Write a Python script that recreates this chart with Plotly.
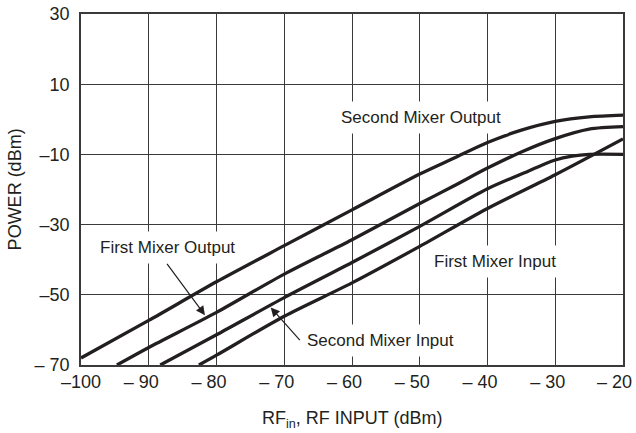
import plotly.graph_objects as go

# ---- data ----
rf_in_som = [-100, -90, -80, -70, -60, -50, -45, -40, -35, -30, -25, -20]
pw_som = [-68, -57.3, -46.3, -36, -25.8, -15.6, -11.1, -6.6, -3.1, -0.6, 0.7, 1.2]

rf_in_fmo = [-94.7, -90, -80, -70, -60, -50, -45, -40, -35, -30, -25, -20]
pw_fmo = [-70, -65, -55, -44.1, -34.3, -24, -19, -13.9, -9.3, -5.5, -2.8, -2.1]

rf_in_smi = [-88.3, -80, -70, -60, -50, -40, -35, -30, -27.5, -25, -20]
pw_smi = [-70, -61.4, -50.8, -40.8, -30.5, -19.8, -15.6, -11.6, -10.5, -10, -10]

rf_in_fmi = [-82.6, -80, -70, -60, -50, -40, -30, -20]
pw_fmi = [-70, -67.2, -56.1, -46.6, -36.2, -25.4, -15.8, -5.6]

x_ticks = [-100, -90, -80, -70, -60, -50, -40, -30, -20]
x_ticktext = ["–100", "– 90", "– 80", "– 70", "– 60", "– 50", "– 40", "– 30", "– 20"]
y_ticks = [30, 10, -10, -30, -50, -70]
y_ticktext = ["30", "10", "–10", "–30", "–50", "– 70"]

FONT = "Liberation Sans, Arial, sans-serif"
INK = "#231f20"
PAD = "\u00a0\u00a0\u00a0"  # keeps the digits centred under each tick

fig = go.Figure()
for name, xs, ys in [
    ("Second Mixer Output", rf_in_som, pw_som),
    ("First Mixer Output", rf_in_fmo, pw_fmo),
    ("Second Mixer Input", rf_in_smi, pw_smi),
    ("First Mixer Input", rf_in_fmi, pw_fmi),
]:
    fig.add_trace(go.Scatter(
        x=xs, y=ys, mode="lines", name=name,
        line=dict(color=INK, width=3.3, shape="spline", smoothing=0.8),
        showlegend=False, hoverinfo="skip",
    ))

lab_font = dict(family=FONT, size=17, color=INK)
ttl_font = dict(family=FONT, size=18, color=INK)
annotations = [
    dict(x=-49.8, y=0.4, xref="x", yref="y", text="Second Mixer Output",
         showarrow=False, bgcolor="white", borderpad=6, font=lab_font),
    dict(x=-38.9, y=-40.4, xref="x", yref="y", text="First Mixer Input",
         showarrow=False, bgcolor="white", borderpad=6, font=lab_font),
    # label with arrow: tail sits at the bottom-centre of the label box
    dict(x=-81.7, y=-55.8, ax=-87.3, ay=-41.2, xref="x", yref="y",
         axref="x", ayref="y", text="First Mixer Output",
         xanchor="center", yanchor="bottom",
         showarrow=True, arrowhead=2, arrowsize=1.5, arrowwidth=1.2,
         arrowcolor=INK, standoff=0, startstandoff=0,
         bgcolor="white", borderpad=6, font=lab_font),
    # label with arrow: tail sits at the left-middle of the label box
    dict(x=-72.0, y=-53.6, ax=-67.7, ay=-62.9, xref="x", yref="y",
         axref="x", ayref="y", text="Second Mixer Input",
         xanchor="left", yanchor="middle",
         showarrow=True, arrowhead=2, arrowsize=1.5, arrowwidth=1.2,
         arrowcolor=INK, standoff=0, startstandoff=0,
         bgcolor="white", borderpad=6, font=lab_font),
    # last x tick label, kept inside the page like in the reference
    dict(x=x_ticks[-1], y=-0.048, xref="x", yref="paper", xanchor="right",
         yanchor="middle", xshift=11, text=x_ticktext[-1], showarrow=False,
         font=ttl_font),
    # axis titles
    dict(x=0.5, y=-0.118, xref="paper", yref="paper", xanchor="center",
         yanchor="top", text="RF<sub>in</sub>, RF INPUT (dBm)",
         showarrow=False, font=ttl_font),
    dict(x=-0.122, y=0.5, xref="paper", yref="paper", xanchor="center",
         yanchor="middle", text="POWER (dBm)", textangle=-90,
         showarrow=False, font=ttl_font),
]

fig.update_layout(
    width=636, height=433,
    margin=dict(l=81, r=13, t=14, b=68, autoexpand=False),
    paper_bgcolor="white", plot_bgcolor="white",
    font=dict(family=FONT, size=18, color=INK),
    annotations=annotations,
)
fig.update_xaxes(
    range=[-100, -20], tickvals=x_ticks[:-1],
    ticktext=[t + PAD if t.startswith("– ") else t for t in x_ticktext[:-1]],
    showgrid=True, gridcolor="#3a3a3a", gridwidth=1,
    showline=True, linecolor="#3a3a3a", linewidth=1.5, mirror=True,
    zeroline=False, ticks="", ticklabelstandoff=0, automargin=False,
    tickfont=dict(family=FONT, size=18, color=INK),
)
fig.update_yaxes(
    range=[-70, 30], tickvals=y_ticks, ticktext=y_ticktext,
    showgrid=True, gridcolor="#3a3a3a", gridwidth=1,
    showline=True, linecolor="#3a3a3a", linewidth=1.5, mirror=True,
    zeroline=False, ticks="", ticklabelstandoff=6, automargin=False,
    tickfont=dict(family=FONT, size=18, color=INK),
)

fig.write_html("out.html", config={"displayModeBar": False},
               post_script="document.body.style.margin='0';")
